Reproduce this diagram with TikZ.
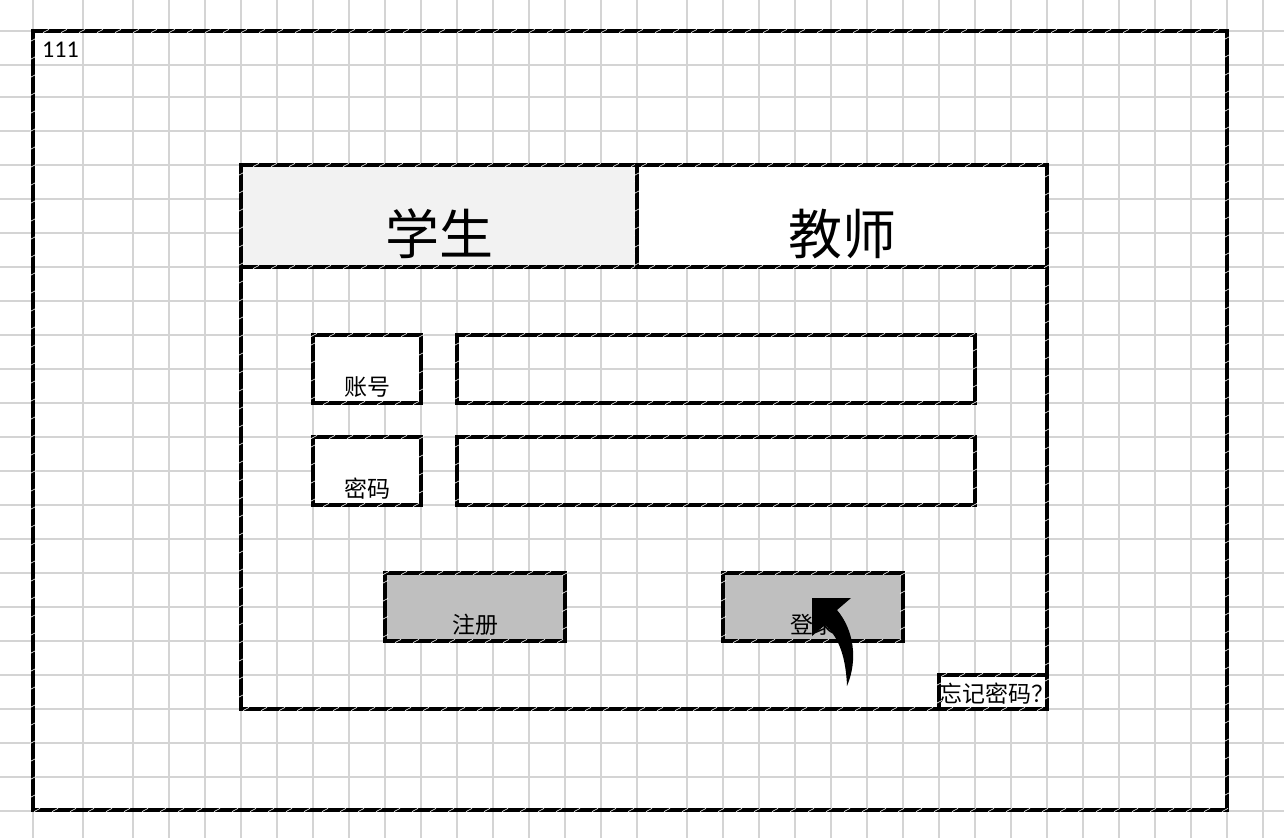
\documentclass[tikz,border=0pt]{standalone}
\usepackage{fontspec}
\setmainfont{Carlito}
\newfontfamily\cjk{Noto Sans CJK SC}
\usetikzlibrary{decorations.markings}
\definecolor{gridgray}{HTML}{D4D4D4}
\definecolor{tabgray}{HTML}{F2F2F2}
\definecolor{btngray}{HTML}{BFBFBF}
\tikzset{
  gridline/.style={draw=gridgray, line width=1.6pt},
  cellborder/.style={draw=black, line width=3.6pt,
    postaction={decorate, decoration={markings,
      mark=between positions 9pt and 1 step 18pt with {\pgftransformresetnontranslations
        \draw[white, line width=0.6pt] (-3pt,-1.6pt) -- (3pt,1.6pt);}}}},
  tabtext/.style={font=\cjk\fontsize{54}{54}\selectfont, anchor=base, inner sep=0pt},
  celltext/.style={font=\cjk\fontsize{23}{23}\selectfont, anchor=base, inner sep=0pt},
}
\begin{document}
\begin{tikzpicture}[x=1pt,y=-1pt]
  \useasboundingbox (0,0) rectangle (1284,838);
  \fill[white] (0,0) rectangle (1284,838);
  %grid
  \foreach \gx in {33,83,133,169,205,...,637,687,723,...,1263}
    \draw[gridline] (\gx,0) -- (\gx,838);
  \foreach \gy in {31,65,97,131,165,...,811}
    \draw[gridline] (0,\gy) -- (1284,\gy);
  %cell fills
  \fill[tabgray] (241,165) rectangle (637,267);
  \fill[white] (637,165) rectangle (1047,267);
  \fill[white] (313,335) rectangle (421,403);
  \fill[white] (313,437) rectangle (421,505);
  \fill[btngray] (385,573) rectangle (565,641);
  \fill[btngray] (723,573) rectangle (903,641);
  \fill[white] (939,675) rectangle (1047,709);
  %outer frame
  \draw[cellborder] (33,31) rectangle (1227,810);
  \node[font=\fontsize{24}{24}\selectfont, anchor=base west, inner sep=0pt] (sheetno) at (42,57) {111};
  %login window
  \draw[cellborder] (241,165) rectangle (1047,709);
  \draw[cellborder] (241,165) rectangle (637,267);
  \draw[cellborder] (637,165) rectangle (1047,267);
  \node[tabtext] (tabstudent) at (439,254) {学生};
  \node[tabtext] (tabteacher) at (842,254) {教师};
  %account and password
  \draw[cellborder] (313,335) rectangle (421,403);
  \draw[cellborder] (457,335) rectangle (975,403);
  \draw[cellborder] (313,437) rectangle (421,505);
  \draw[cellborder] (457,437) rectangle (975,505);
  \node[celltext] (account) at (367,395) {账号};
  \node[celltext] (password) at (367,497) {密码};
  %buttons
  \draw[cellborder] (385,573) rectangle (565,641);
  \draw[cellborder] (723,573) rectangle (903,641);
  \node[celltext] (register) at (475,633) {注册};
  \node[celltext] (login) at (813,633) {登录};
  %forgot password
  \begin{scope}
    \clip (939,675) rectangle (1047,709);
    \node[celltext] (forgot) at (997,702) {忘记密码？};
  \end{scope}
  \draw[cellborder] (939,675) rectangle (1047,709);
  %cursor
  \fill[black] (812,598) -- (851,598) -- (837,610)
    .. controls (854,630) and (858,660) .. (847,686)
    .. controls (846,660) and (840,638) .. (825,625) -- (812,636) -- cycle;
\end{tikzpicture}
\end{document}
